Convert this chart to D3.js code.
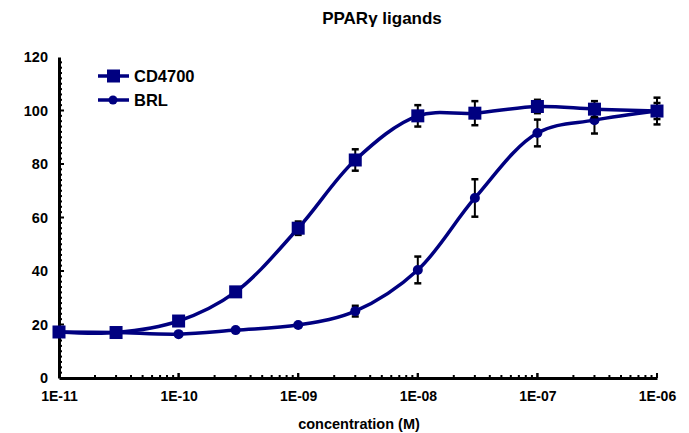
<!DOCTYPE html>
<html>
<head>
<meta charset="utf-8">
<script src="https://cdn.jsdelivr.net/npm/d3@7.9.0/dist/d3.min.js"></script>
<style>
  body { margin: 0; background: #fff; }
  svg { font-family: "Liberation Sans", Arial, sans-serif; font-weight: bold; }
</style>
</head>
<body>
<svg width="689" height="433"></svg>
<script>
// concentrations (M)
const conc = [1e-11, 3e-11, 1e-10, 3e-10, 1e-9, 3e-9, 1e-8, 3e-8, 1e-7, 3e-7, 1e-6];
const cd4700 = [17.2, 17, 21.3, 32.2, 56, 81.5, 98, 99, 101.5, 100.5, 99.8];
const cd4700Err = [0, 0, 0, 0, 2.5, 4, 4, 4.5, 2.5, 3, 3];
const brl = [17.2, 17, 16.4, 17.9, 19.8, 25, 40.4, 67.3, 91.6, 96.4, 99.8];
const brlErr = [0, 0, 0, 0, 0, 2, 5, 7, 5, 5, 5];
const xTicks = [1e-11, 1e-10, 1e-9, 1e-8, 1e-7, 1e-6];
const xTickLabels = ['1E-11', '1E-10', '1E-09', '1E-08', '1E-07', '1E-06'];
const yTicks = [0, 20, 40, 60, 80, 100, 120];

const svg = d3.select('svg');
const navy = '#000080';
const font = 'Liberation Sans, Arial, sans-serif';

let x = d3.scaleLog().domain([1e-11, 1e-6]).range([59, 657]);
let y = d3.scaleLinear().domain([0, 120]).range([378, 57]);

// title
svg.append('text').attr('x', 382).attr('y', 24).attr('text-anchor', 'middle')
  .attr('font-size', 17).text('PPARγ ligands');

// y axis
let yAxis = d3.axisLeft(y).tickValues(yTicks).tickSize(0).tickPadding(11);
let gy = svg.append('g').attr('transform', `translate(${x.range()[0]},0)`).call(yAxis);
gy.select('.domain').attr('stroke', '#000').attr('stroke-width', 3);
gy.selectAll('text').attr('font-size', 14.5).attr('font-weight', 'bold').attr('font-family', font);
// minor y ticks (inside)
d3.range(2, 120, 2).forEach(v => {
  svg.append('line').attr('x1', 59).attr('x2', v % 20 === 0 ? 64 : 62)
    .attr('y1', y(v)).attr('y2', y(v)).attr('stroke', '#000').attr('stroke-width', 2);
});

// x axis
let xAxis = d3.axisBottom(x).tickValues(xTicks).tickFormat((d, i) => xTickLabels[i]).tickSize(0).tickPadding(13);
let gx = svg.append('g').attr('transform', `translate(0,${y(0)})`).call(xAxis);
gx.select('.domain').attr('stroke', '#000').attr('stroke-width', 3);
gx.selectAll('text').attr('font-size', 14).attr('font-weight', 'bold').attr('font-family', font);
// minor x ticks (inside)
for (let e = -11; e < -6; e++) {
  for (let m = 1; m <= 10; m++) {
    let v = m * Math.pow(10, e);
    svg.append('line').attr('x1', x(v)).attr('x2', x(v))
      .attr('y1', y(0)).attr('y2', y(0) - (m === 1 || m === 10 ? 5 : 3))
      .attr('stroke', '#000').attr('stroke-width', 2);
  }
}

svg.append('text').attr('x', 359).attr('y', 429).attr('text-anchor', 'middle')
  .attr('font-size', 14.5).text('concentration (M)');

let line = d3.line().x(d => x(d[0])).y(d => y(d[1])).curve(d3.curveCatmullRom.alpha(0.5));

function drawSeries(vals, errs, shape) {
  let pts = conc.map((c, i) => [c, vals[i], errs[i]]);
  svg.append('path').attr('d', line(pts)).attr('fill', 'none')
    .attr('stroke', navy).attr('stroke-width', 3.5);
  pts.forEach(p => {
    if (p[2] > 0) {
      let g = svg.append('g').attr('stroke', '#000').attr('stroke-width', 2);
      g.append('line').attr('x1', x(p[0])).attr('x2', x(p[0]))
        .attr('y1', y(p[1] - p[2])).attr('y2', y(p[1] + p[2]));
      [p[1] - p[2], p[1] + p[2]].forEach(v => {
        g.append('line').attr('x1', x(p[0]) - 3.5).attr('x2', x(p[0]) + 3.5)
          .attr('y1', y(v)).attr('y2', y(v)).attr('stroke-width', 2.5);
      });
    }
  });
  pts.forEach(p => {
    if (shape === 'square') {
      svg.append('rect').attr('x', x(p[0]) - 6.5).attr('y', y(p[1]) - 6.5)
        .attr('width', 13).attr('height', 13).attr('fill', navy);
    } else {
      svg.append('circle').attr('cx', x(p[0])).attr('cy', y(p[1])).attr('r', 5).attr('fill', navy);
    }
  });
}

drawSeries(brl, brlErr, 'circle');
drawSeries(cd4700, cd4700Err, 'square');

// legend
const legend = [['CD4700', 'square'], ['BRL', 'circle']];
legend.forEach((d, i) => {
  let ly = 76 + i * 24;
  svg.append('line').attr('x1', 98).attr('x2', 129).attr('y1', ly).attr('y2', ly)
    .attr('stroke', navy).attr('stroke-width', 3.5);
  if (d[1] === 'square') {
    svg.append('rect').attr('x', 107).attr('y', ly - 6.5).attr('width', 13).attr('height', 13).attr('fill', navy);
  } else {
    svg.append('circle').attr('cx', 113).attr('cy', ly).attr('r', 4.5).attr('fill', navy);
  }
  svg.append('text').attr('x', 134).attr('y', ly + 6).attr('font-size', 16.5).text(d[0]);
});
</script>
</body>
</html>
